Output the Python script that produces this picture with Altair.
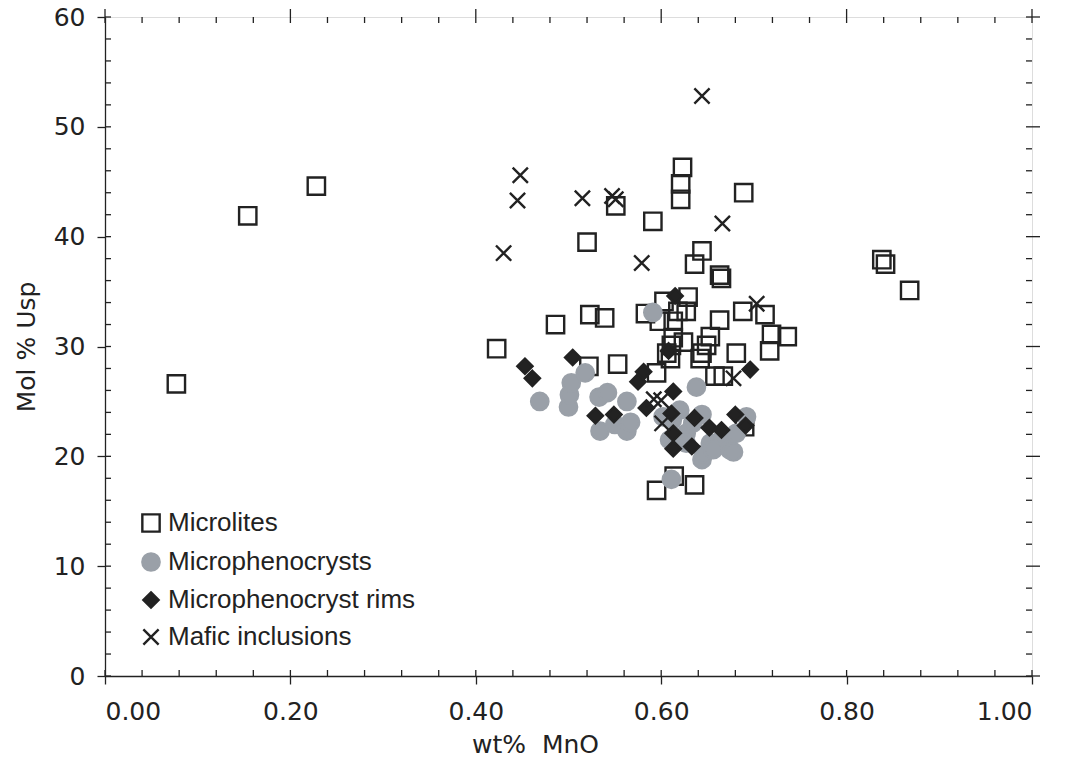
import altair as alt
import pandas as pd

# Measured compositions: x = wt% MnO, y = mol % ulvöspinel
microlites_x = [0.077, 0.154, 0.228, 0.4225, 0.486, 0.523, 0.539, 0.520, 0.551, 0.522,
                0.553, 0.583, 0.591, 0.595, 0.598, 0.603, 0.606, 0.610, 0.613, 0.613,
                0.618, 0.621, 0.621, 0.623, 0.624, 0.627, 0.629, 0.636, 0.642, 0.644,
                0.649, 0.653, 0.658, 0.663, 0.663, 0.665, 0.667, 0.681, 0.688, 0.689,
                0.690, 0.712, 0.717, 0.719, 0.736, 0.838, 0.842, 0.868, 0.595, 0.614,
                0.636, 0.611, 0.644]
microlites_y = [26.6, 41.9, 44.6, 29.8, 32.0, 32.9, 32.6, 39.5, 42.8, 28.2,
                28.4, 33.0, 41.4, 27.6, 32.3, 34.1, 29.4, 28.9, 30.8, 32.3,
                33.2, 43.4, 44.8, 46.3, 30.4, 33.2, 34.5, 37.5, 28.9, 38.7,
                30.1, 30.9, 27.3, 32.4, 36.5, 36.2, 27.3, 29.4, 33.2, 44.0,
                22.7, 32.9, 29.6, 31.1, 30.9, 37.9, 37.5, 35.1, 16.9, 18.2,
                17.4, 30.1, 29.4]

micropheno_x = [0.469, 0.500, 0.501, 0.503, 0.518, 0.533, 0.542, 0.563, 0.534, 0.550,
                0.563, 0.567, 0.591, 0.638, 0.602, 0.620, 0.644, 0.692, 0.609, 0.627,
                0.627, 0.644, 0.646, 0.653, 0.656, 0.667, 0.674, 0.678, 0.681, 0.611,
                0.612, 0.634]
micropheno_y = [25.0, 24.5, 25.6, 26.7, 27.6, 25.4, 25.8, 25.0, 22.3, 22.9,
                22.3, 23.1, 33.1, 26.3, 23.6, 24.2, 23.8, 23.6, 21.5, 22.1,
                21.2, 19.7, 20.2, 21.2, 20.6, 21.8, 20.6, 20.4, 22.1, 17.9,
                23.3, 23.0]

rims_x = [0.453, 0.461, 0.5045, 0.529, 0.549, 0.575, 0.581, 0.584, 0.608, 0.611,
          0.613, 0.613, 0.613, 0.615, 0.633, 0.636, 0.652, 0.665, 0.680, 0.691,
          0.696]
rims_y = [28.2, 27.1, 29.0, 23.7, 23.8, 26.8, 27.7, 24.4, 29.6, 23.9,
          25.9, 22.1, 20.7, 34.6, 20.9, 23.5, 22.6, 22.4, 23.8, 22.8,
          27.9]

mafic_x = [0.644, 0.448, 0.445, 0.515, 0.547, 0.551, 0.666, 0.430, 0.579, 0.703,
           0.678, 0.592, 0.600, 0.601]
mafic_y = [52.8, 45.6, 43.3, 43.5, 43.7, 43.4, 41.2, 38.5, 37.6, 33.9,
           27.1, 25.2, 25.1, 23.0]

groups = ["Microlites", "Microphenocrysts", "Microphenocryst rims", "Mafic inclusions"]

# Axis tick positions
x_major = [0.0, 0.2, 0.4, 0.6, 0.8, 1.0]
x_minor = [round(0.04 * k, 2) for k in range(26)]
y_major = [0, 10, 20, 30, 40, 50, 60]
y_minor = list(range(0, 61, 2))

rows = []
for name, xs, ys in zip(groups,
                        [microlites_x, micropheno_x, rims_x, mafic_x],
                        [microlites_y, micropheno_y, rims_y, mafic_y]):
    for a, b in zip(xs, ys):
        rows.append({"MnO": a, "Usp": b, "group": name})
points = pd.DataFrame(rows)
points["order"] = points["group"].map({g: i for i, g in enumerate(groups)})

INK = "#222222"
GREY = "#9aa0a8"
W, H = 927, 659
AXFONT = "DejaVu Sans"
LEGFONT = "Liberation Sans"

# symbol outlines (unit paths, scaled by the mark size)
SQUARE = "square"
CIRCLE = "circle"
DIAMOND = "M0,-0.88L0.88,0L0,0.88L-0.88,0Z"
XMARK = "M-0.88,-0.88L0.88,0.88M-0.88,0.88L0.88,-0.88"

x_scale = alt.Scale(domain=[0, 1], nice=False, zero=False)
y_scale = alt.Scale(domain=[0, 60], nice=False, zero=False)

x_axis = alt.Axis(values=x_major, format=".2f", tickSize=8, tickWidth=1.3, tickColor=INK,
                  domainColor=INK, domainWidth=1.3, labelFontSize=25, labelColor=INK,
                  labelPadding=15, labelFont=AXFONT, grid=False,
                  title="wt%\u00a0 MnO", titleFontSize=25, titleFont=AXFONT,
                  titleFontWeight="normal", titleColor=INK, titlePadding=8,
                  titleX=430)
y_axis = alt.Axis(values=y_major, tickSize=8, tickWidth=1.3, tickColor=INK,
                  domainColor=INK, domainWidth=1.3, labelFontSize=25, labelColor=INK,
                  labelPadding=12, labelFont=AXFONT, grid=False,
                  title="Mol % Usp", titleFontSize=25, titleFont=AXFONT,
                  titleFontWeight="normal", titleColor=INK, titlePadding=14)

legend = alt.Legend(title=None, orient="none", legendX=33, legendY=493,
                    labelFontSize=26, labelFont=LEGFONT, labelColor=INK,
                    labelOffset=4, labelLimit=500, rowPadding=11, padding=0,
                    symbolOffset=0, symbolSize=300, symbolStrokeWidth=2.4)

scatter = alt.Chart(points).mark_point(opacity=1, size=300, strokeWidth=2.4).encode(
    x=alt.X("MnO:Q", scale=x_scale, axis=x_axis),
    y=alt.Y("Usp:Q", scale=y_scale, axis=y_axis),
    shape=alt.Shape("group:N", scale=alt.Scale(
        domain=groups, range=[SQUARE, CIRCLE, DIAMOND, XMARK]), legend=legend),
    fill=alt.Fill("group:N", scale=alt.Scale(
        domain=groups, range=["transparent", GREY, INK, "transparent"]), legend=legend),
    stroke=alt.Stroke("group:N", scale=alt.Scale(
        domain=groups, range=[INK, GREY, INK, INK]), legend=legend),
    order=alt.Order("order:Q"),
)

# Inward ticks on all four sides, outward major ticks on top and right
def xticks(vals, y0, y1):
    return alt.Chart(pd.DataFrame({"t": vals})).mark_rule(color=INK, strokeWidth=1.3).encode(
        x=alt.X("t:Q", scale=x_scale), y=alt.value(y0), y2=alt.value(y1))

def yticks(vals, x0, x1):
    return alt.Chart(pd.DataFrame({"t": vals})).mark_rule(color=INK, strokeWidth=1.3).encode(
        y=alt.Y("t:Q", scale=y_scale), x=alt.value(x0), x2=alt.value(x1))

ticks = [
    xticks(x_minor, 0, 6), xticks(x_minor, H - 6, H), xticks(x_major, -8, 0),
    yticks(y_minor, 0, 6), yticks(y_minor, W - 6, W), yticks(y_major, W, W + 8),
]

chart = alt.layer(*ticks, scatter).properties(
    width=W, height=H,
    autosize=alt.AutoSizeParams(type="none"),
    padding={"left": 105, "top": 17, "right": 33, "bottom": 91},
).configure_view(stroke=INK, strokeWidth=1.3).configure(background="white")

chart.save("out.html", embed_options={"renderer": "svg", "actions": False})
